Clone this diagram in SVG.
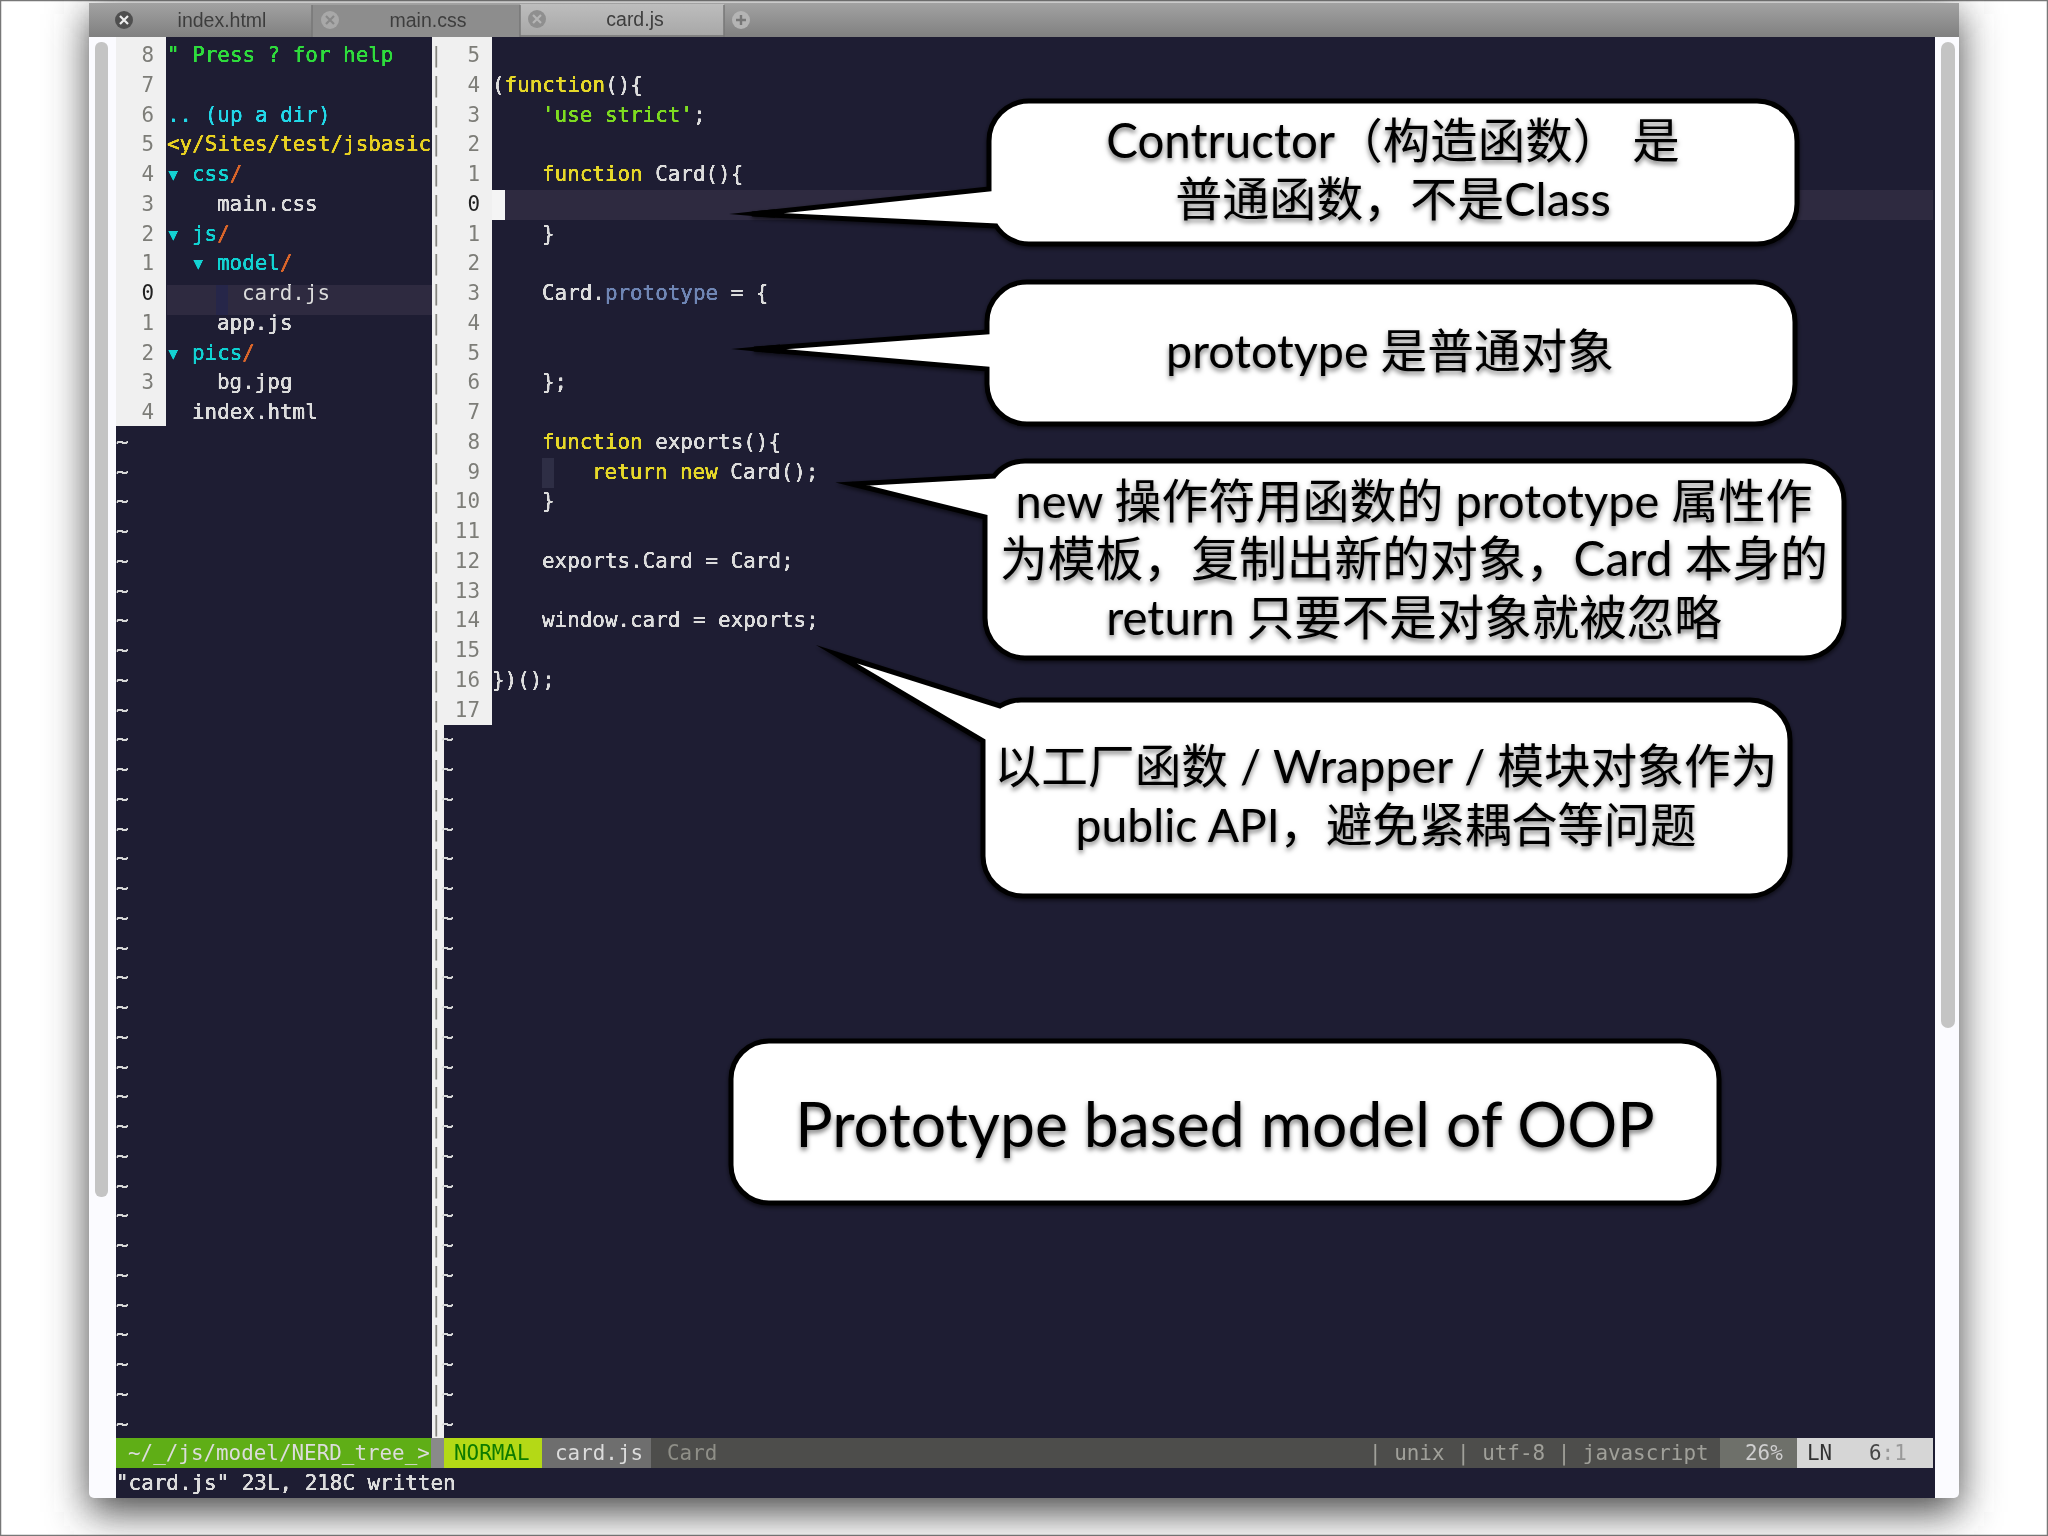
<svg xmlns="http://www.w3.org/2000/svg" width="2048" height="1536" viewBox="0 0 2048 1536">
<style>
.m{font-family:"DejaVu Sans Mono","Liberation Mono",monospace;font-size:20.9px;fill:#dcdcdc}
.n{fill:#7d7d78;text-anchor:end}
.p{fill:#85857f}
.t{fill:#d8d8d8}
.y{fill:#e6d829}
.g{fill:#7edc20}
.c{fill:#12d2d2}
.o{fill:#d9652a}
.tri{font-size:24px}
.tab{font-family:"Liberation Sans",sans-serif;font-size:19.5px;fill:#3e3e3e;text-anchor:middle}
.b{fill:#fff;stroke:#000;stroke-width:5;stroke-miterlimit:12;stroke-linejoin:miter;filter:url(#bs)}
.w{fill:#000}
.l{font-family:"Lato","Noto Sans CJK SC",sans-serif;font-size:47.5px;fill:#000;text-anchor:middle;filter:url(#ts)}
</style>
<defs>
<filter id="sh" x="-5%" y="-5%" width="110%" height="110%"><feGaussianBlur stdDeviation="20"/></filter>
<filter id="soft" x="-2%" y="-2%" width="104%" height="104%"><feGaussianBlur stdDeviation="0.7"/><feComponentTransfer><feFuncA type="linear" slope="2.4"/></feComponentTransfer></filter>
<filter id="bs" x="-5%" y="-5%" width="110%" height="115%"><feDropShadow dx="0" dy="2" stdDeviation="2" flood-color="#000" flood-opacity=".6"/></filter>
<filter id="ts" x="-5%" y="-20%" width="110%" height="150%"><feDropShadow dx="0" dy="3" stdDeviation="2.5" flood-color="#000" flood-opacity=".55"/></filter>
<linearGradient id="bar" x1="0" y1="0" x2="0" y2="1"><stop offset="0" stop-color="#a2a2a2"/><stop offset="1" stop-color="#808080"/></linearGradient>
<linearGradient id="act" x1="0" y1="0" x2="0" y2="1"><stop offset="0" stop-color="#bdbdbd"/><stop offset="1" stop-color="#a8a8a8"/></linearGradient>
</defs>

<rect width="2048" height="1536" fill="#fff"/>
<rect x="0.5" y="0.5" width="2047" height="1535" fill="none" stroke="#777" stroke-width="1.5"/>
<rect x="89" y="14" width="1870" height="1498" fill="#444" filter="url(#sh)"/>

<g id="window">
<rect x="89" y="3" width="1870" height="1495" rx="5" fill="#fbfbff"/>
<rect x="116" y="37" width="1819" height="1461" fill="#1e1d33"/>
<rect x="95" y="42" width="13" height="1155" rx="6" fill="#c4c4c4"/>
<rect x="1941" y="42" width="14" height="986" rx="7" fill="#c4c4c4"/>
</g>

<g id="tabs" filter="url(#soft)">
<rect x="89" y="3" width="1870" height="34" fill="url(#bar)"/>
<rect x="312" y="5" width="208" height="32" fill="#8d8d8d"/>
<rect x="520" y="4" width="204" height="31" fill="url(#act)"/>
<path d="M312 5V37M520 5V37M724 5V37" stroke="#777" stroke-width="1.5" fill="none"/>
<circle cx="124" cy="20" r="9" fill="#505050"/><path d="M120 16l8 8M128 16l-8 8" stroke="#eee" stroke-width="2.2"/>
<circle cx="330" cy="20" r="9" fill="#a8a8a8"/><path d="M326 16l8 8M334 16l-8 8" stroke="#888" stroke-width="2.2"/>
<circle cx="537" cy="19" r="9" fill="#8f8f8f"/><path d="M533 15l8 8M541 15l-8 8" stroke="#b5b5b5" stroke-width="2.2"/>
<circle cx="741" cy="20" r="9" fill="#b4b4b4"/><path d="M736 20h10M741 15v10" stroke="#777" stroke-width="2.4"/>
<text class="tab" x="222" y="27">index.html</text>
<text class="tab" x="428" y="27">main.css</text>
<text class="tab" x="635" y="26">card.js</text>
</g>

<g id="editor" filter="url(#soft)">
<rect x="116" y="37" width="50" height="389" fill="#f0f0f0"/>
<rect x="432" y="37" width="60" height="688" fill="#f0f0f0"/>
<rect x="432" y="725" width="12" height="713" fill="#f0f0f0"/>
<rect x="167" y="285" width="265" height="30" fill="#2d2b40"/>
<rect x="216" y="285" width="12" height="30" fill="#28284a"/>
<rect x="492" y="190" width="1441" height="30" fill="#2e2c3f"/>
<rect x="492" y="190" width="13" height="30" fill="#f4f4f4"/>
<rect x="542" y="458" width="12" height="30" fill="#2f2d45"/>

<g id="sidebar">
<text class="m n" x="154" y="62">8</text>
<text class="m n" x="154" y="92">7</text>
<text class="m n" x="154" y="121.5">6</text>
<text class="m n" x="154" y="151">5</text>
<text class="m n" x="154" y="181">4</text>
<text class="m n" x="154" y="211">3</text>
<text class="m n" x="154" y="240.5">2</text>
<text class="m n" x="154" y="270">1</text>
<text class="m n" x="154" y="300" style="fill:#222">0</text>
<text class="m n" x="154" y="330">1</text>
<text class="m n" x="154" y="359.5">2</text>
<text class="m n" x="154" y="389">3</text>
<text class="m n" x="154" y="419">4</text>
<text class="m" x="167" y="62" style="fill:#2fdc3c">" Press ? for help</text>
<text class="m" x="167" y="121.5" style="fill:#22d8e8">.. (up a dir)</text>
<text class="m" x="167" y="151" style="fill:#e8d020">&lt;y/Sites/test/jsbasic</text>
<text class="m c tri" x="166" y="182">▾</text><text class="m c" x="192" y="181">css<tspan class="o">/</tspan></text>
<text class="m" x="217" y="211">main.css</text>
<text class="m c tri" x="166" y="241.5">▾</text><text class="m c" x="192" y="240.5">js<tspan class="o">/</tspan></text>
<text class="m c tri" x="191" y="271">▾</text><text class="m c" x="217" y="270">model<tspan class="o">/</tspan></text>
<text class="m" x="242" y="300">card.js</text>
<text class="m" x="217" y="330">app.js</text>
<text class="m c tri" x="166" y="360.5">▾</text><text class="m c" x="192" y="359.5">pics<tspan class="o">/</tspan></text>
<text class="m" x="217" y="389">bg.jpg</text>
<text class="m" x="192" y="419">index.html</text>
</g>

<g id="tildes-left">
<text class="m t" x="116" y="449">~</text><text class="m t" x="116" y="478.5">~</text><text class="m t" x="116" y="508">~</text><text class="m t" x="116" y="538">~</text><text class="m t" x="116" y="568">~</text><text class="m t" x="116" y="597.5">~</text><text class="m t" x="116" y="627">~</text><text class="m t" x="116" y="657">~</text><text class="m t" x="116" y="687">~</text><text class="m t" x="116" y="716.5">~</text><text class="m t" x="116" y="746">~</text><text class="m t" x="116" y="776">~</text><text class="m t" x="116" y="806">~</text><text class="m t" x="116" y="835.5">~</text><text class="m t" x="116" y="865">~</text><text class="m t" x="116" y="895">~</text><text class="m t" x="116" y="925">~</text><text class="m t" x="116" y="954.5">~</text><text class="m t" x="116" y="984">~</text><text class="m t" x="116" y="1014">~</text><text class="m t" x="116" y="1044">~</text><text class="m t" x="116" y="1073.5">~</text><text class="m t" x="116" y="1103">~</text><text class="m t" x="116" y="1133">~</text><text class="m t" x="116" y="1163">~</text><text class="m t" x="116" y="1192.5">~</text><text class="m t" x="116" y="1222">~</text><text class="m t" x="116" y="1252">~</text><text class="m t" x="116" y="1282">~</text><text class="m t" x="116" y="1311.5">~</text><text class="m t" x="116" y="1341">~</text><text class="m t" x="116" y="1371">~</text><text class="m t" x="116" y="1401">~</text><text class="m t" x="116" y="1430.5">~</text>
</g>

<g id="separators">
<text class="m p" x="430" y="62">|</text><text class="m p" x="430" y="92">|</text><text class="m p" x="430" y="121.5">|</text><text class="m p" x="430" y="151">|</text><text class="m p" x="430" y="181">|</text><text class="m p" x="430" y="211">|</text><text class="m p" x="430" y="240.5">|</text><text class="m p" x="430" y="270">|</text><text class="m p" x="430" y="300">|</text><text class="m p" x="430" y="330">|</text><text class="m p" x="430" y="359.5">|</text><text class="m p" x="430" y="389">|</text><text class="m p" x="430" y="419">|</text><text class="m p" x="430" y="449">|</text><text class="m p" x="430" y="478.5">|</text><text class="m p" x="430" y="508">|</text><text class="m p" x="430" y="538">|</text><text class="m p" x="430" y="568">|</text><text class="m p" x="430" y="597.5">|</text><text class="m p" x="430" y="627">|</text><text class="m p" x="430" y="657">|</text><text class="m p" x="430" y="687">|</text><text class="m p" x="430" y="716.5">|</text><text class="m p" x="430" y="746">|</text><text class="m p" x="430" y="776">|</text><text class="m p" x="430" y="806">|</text><text class="m p" x="430" y="835.5">|</text><text class="m p" x="430" y="865">|</text><text class="m p" x="430" y="895">|</text><text class="m p" x="430" y="925">|</text><text class="m p" x="430" y="954.5">|</text><text class="m p" x="430" y="984">|</text><text class="m p" x="430" y="1014">|</text><text class="m p" x="430" y="1044">|</text><text class="m p" x="430" y="1073.5">|</text><text class="m p" x="430" y="1103">|</text><text class="m p" x="430" y="1133">|</text><text class="m p" x="430" y="1163">|</text><text class="m p" x="430" y="1192.5">|</text><text class="m p" x="430" y="1222">|</text><text class="m p" x="430" y="1252">|</text><text class="m p" x="430" y="1282">|</text><text class="m p" x="430" y="1311.5">|</text><text class="m p" x="430" y="1341">|</text><text class="m p" x="430" y="1371">|</text><text class="m p" x="430" y="1401">|</text><text class="m p" x="430" y="1430.5">|</text>
</g>

<g id="tildes-right">
<text class="m t" x="441" y="746">~</text><text class="m t" x="441" y="776">~</text><text class="m t" x="441" y="806">~</text><text class="m t" x="441" y="835.5">~</text><text class="m t" x="441" y="865">~</text><text class="m t" x="441" y="895">~</text><text class="m t" x="441" y="925">~</text><text class="m t" x="441" y="954.5">~</text><text class="m t" x="441" y="984">~</text><text class="m t" x="441" y="1014">~</text><text class="m t" x="441" y="1044">~</text><text class="m t" x="441" y="1073.5">~</text><text class="m t" x="441" y="1103">~</text><text class="m t" x="441" y="1133">~</text><text class="m t" x="441" y="1163">~</text><text class="m t" x="441" y="1192.5">~</text><text class="m t" x="441" y="1222">~</text><text class="m t" x="441" y="1252">~</text><text class="m t" x="441" y="1282">~</text><text class="m t" x="441" y="1311.5">~</text><text class="m t" x="441" y="1341">~</text><text class="m t" x="441" y="1371">~</text><text class="m t" x="441" y="1401">~</text><text class="m t" x="441" y="1430.5">~</text>
</g>

<g id="line-numbers">
<text class="m n" x="480" y="62">5</text><text class="m n" x="480" y="92">4</text><text class="m n" x="480" y="121.5">3</text><text class="m n" x="480" y="151">2</text><text class="m n" x="480" y="181">1</text>
<text class="m n" x="480" y="211" style="fill:#222">0</text>
<text class="m n" x="480" y="240.5">1</text><text class="m n" x="480" y="270">2</text><text class="m n" x="480" y="300">3</text><text class="m n" x="480" y="330">4</text><text class="m n" x="480" y="359.5">5</text><text class="m n" x="480" y="389">6</text><text class="m n" x="480" y="419">7</text><text class="m n" x="480" y="449">8</text><text class="m n" x="480" y="478.5">9</text><text class="m n" x="480" y="508">10</text><text class="m n" x="480" y="538">11</text><text class="m n" x="480" y="568">12</text><text class="m n" x="480" y="597.5">13</text><text class="m n" x="480" y="627">14</text><text class="m n" x="480" y="657">15</text><text class="m n" x="480" y="687">16</text><text class="m n" x="480" y="716.5">17</text>
</g>

<g id="code">
<text class="m" x="492" y="92">(<tspan class="y">function</tspan>(){</text>
<text class="m g" x="542" y="121.5">'use strict'<tspan style="fill:#dcdcdc">;</tspan></text>
<text class="m" x="542" y="181"><tspan class="y">function</tspan> Card(){</text>
<text class="m" x="542" y="240.5">}</text>
<text class="m" x="542" y="300">Card.<tspan style="fill:#6f86b5">prototype</tspan> = {</text>
<text class="m" x="542" y="389">};</text>
<text class="m" x="542" y="449"><tspan class="y">function</tspan> exports(){</text>
<text class="m" x="592" y="478.5"><tspan class="y">return new</tspan> Card();</text>
<text class="m" x="542" y="508">}</text>
<text class="m" x="542" y="568">exports.Card = Card;</text>
<text class="m" x="542" y="627">window.card = exports;</text>
<text class="m" x="492" y="687">})();</text>
</g>

<g id="statusline">
<rect x="116" y="1438" width="1817" height="30" fill="#4e4e4b"/>
<rect x="116" y="1438" width="315" height="30" fill="#5fae14"/>
<rect x="431" y="1438" width="13" height="30" fill="#8a8a8a"/>
<rect x="444" y="1438" width="98" height="30" fill="#b4d916"/>
<rect x="542" y="1438" width="109" height="30" fill="#6e6e6e"/>
<rect x="1720" y="1438" width="77" height="30" fill="#6e6f6b"/>
<rect x="1797" y="1438" width="136" height="30" fill="#d6d6d6"/>
<text class="m" x="128" y="1460">~/_/js/model/NERD_tree_&gt;</text>
<text class="m" x="454" y="1460" style="fill:#0b7a00">NORMAL</text>
<text class="m" x="555" y="1460">card.js</text>
<text class="m" x="667" y="1460" style="fill:#8f8f88">Card</text>
<text class="m" x="1369" y="1460" style="fill:#a0a09a">| unix | utf-8 | javascript</text>
<text class="m" x="1745" y="1460" style="fill:#cfcfcf">26%</text>
<text class="m" x="1807" y="1460" style="fill:#333">LN</text>
<text class="m" x="1869" y="1460" style="fill:#444">6<tspan style="fill:#999">:1</tspan></text>
<text class="m" x="116" y="1490">"card.js" 23L, 218C written</text>
</g>
</g>

<g id="callout-constructor">
<path class="w" d="M729 214L775 209.2V217.8Z"/>
<path class="b" d="M1029 101H1757A40 40 0 0 1 1797 141V204A40 40 0 0 1 1757 244H1029A40 40 0 0 1 996 226L752 214L989 189V141A40 40 0 0 1 1029 101Z"/>
<text class="l" x="1393" y="158">Contructor（构造函数） 是</text>
<text class="l" x="1393" y="216" style="font-size:47px">普通函数，不是Class</text>
</g>
<g id="callout-prototype">
<path class="w" d="M731 349L780 344.6V353.7Z"/>
<path class="b" d="M1027 282H1755A40 40 0 0 1 1795 322V384A40 40 0 0 1 1755 424H1027A40 40 0 0 1 987 384V369L754 349L987 332V322A40 40 0 0 1 1027 282Z"/>
<text class="l" x="1390" y="368" style="font-size:46.7px">prototype 是普通对象</text>
</g>
<g id="callout-new">
<path class="b" d="M1025 461H1804A40 40 0 0 1 1844 501V618A40 40 0 0 1 1804 658H1025A40 40 0 0 1 985 618V517L852 484L994 476A40 40 0 0 1 1025 461Z"/>
<text class="l" x="1414" y="518" style="font-size:47px">new 操作符用函数的 prototype 属性作</text>
<text class="l" x="1414" y="576" style="font-size:47.8px">为模板，复制出新的对象，Card 本身的</text>
<text class="l" x="1414" y="635">return 只要不是对象就被忽略</text>
</g>
<g id="callout-factory">
<path class="b" d="M1023 700H1750A40 40 0 0 1 1790 740V856A40 40 0 0 1 1750 896H1023A40 40 0 0 1 983 856V741L836 654L1000 706A40 40 0 0 1 1023 700Z"/>
<text class="l" x="1386" y="783" style="font-size:46.7px">以工厂函数 / Wrapper / 模块对象作为</text>
<text class="l" x="1386" y="842" style="font-size:46.3px">public API，避免紧耦合等问题</text>
</g>
<g id="callout-title">
<rect class="b" x="731" y="1041" width="988" height="162" rx="38"/>
<text class="l" x="1225" y="1147" style="font-size:62.4px">Prototype based model of OOP</text>
</g>
</svg>
